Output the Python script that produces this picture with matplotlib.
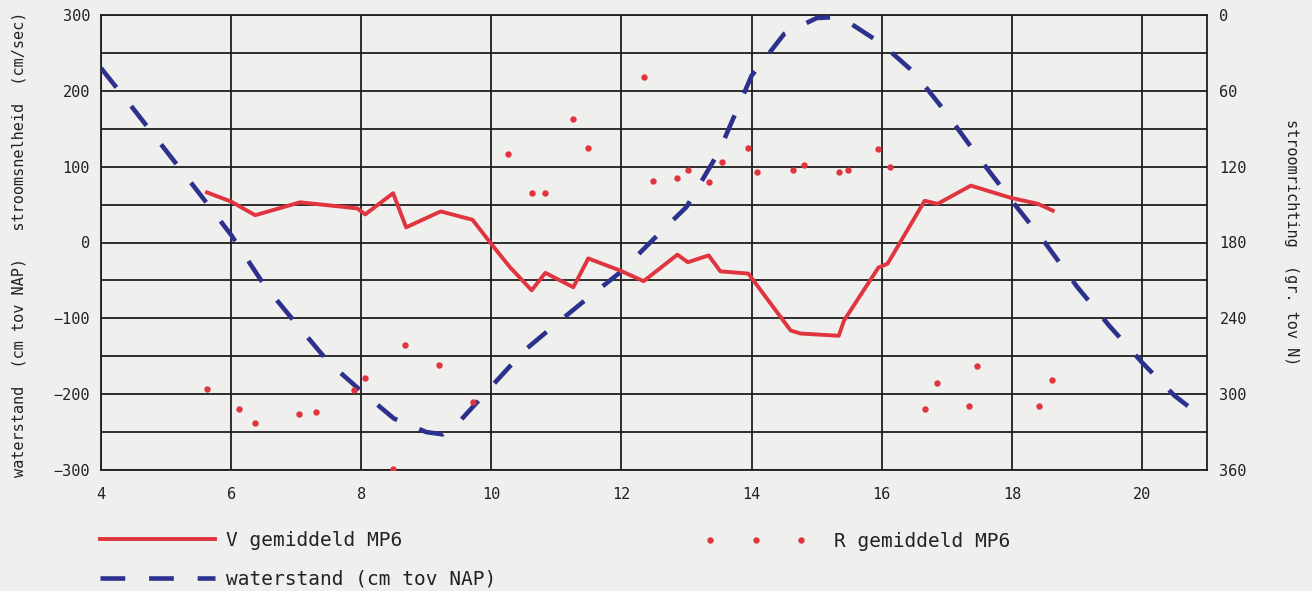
import matplotlib
matplotlib.use("Agg")
import matplotlib.pyplot as plt

# ---- data ----
v_x = [5.63, 6.0, 6.37, 7.06, 7.94, 8.06, 8.49, 8.69, 9.22, 9.71, 10.0, 10.29, 10.62,
       10.83, 11.26, 11.49, 11.98, 12.34, 12.86, 13.02, 13.34, 13.52, 13.95, 14.6,
       14.75, 15.34, 15.42, 15.95, 16.09, 16.66, 16.86, 17.37, 17.98, 18.4, 18.63]
v_y = [66, 54, 36, 53, 45, 37, 65, 20, 41, 30, -2, -33, -63,
       -40, -59, -21, -37, -51, -16, -26, -17, -38, -41, -116,
       -120, -123, -103, -33, -28, 55, 51, 75, 59, 51, 42]

w_x = [4.0, 4.5, 5.0, 5.5, 6.0, 6.5, 7.0, 7.5, 8.0, 8.5, 9.0, 9.25, 9.5, 10.0, 10.5,
       11.0, 11.5, 12.0, 12.5, 13.0, 13.5, 14.0, 14.5, 15.0, 15.25, 15.5, 16.0, 16.5,
       17.0, 17.5, 18.0, 18.5, 19.0, 19.5, 20.0, 20.5, 21.0]
w_y = [230, 176, 121, 66, 10, -55, -107, -158, -196, -232, -250, -253, -237, -190, -143,
       -107, -72, -38, 5, 47, 120, 220, 275, 296, 297, 290, 262, 224,
       170, 111, 55, 1, -58, -110, -158, -202, -235]

r_x = [5.63, 6.12, 6.37, 7.05, 7.31, 7.89, 8.06, 8.49, 8.68, 9.2, 9.72, 10.25, 10.62,
       10.83, 11.26, 11.49, 12.34, 12.48, 12.85, 13.02, 13.35, 13.54, 13.94, 14.09,
       14.63, 14.8, 15.35, 15.48, 15.95, 16.12, 16.66, 16.85, 17.34, 17.46, 18.42, 18.62]
r_dir = [296, 312, 323, 316, 314, 297, 287, 359, 261, 277, 306, 110, 141,
         141, 82, 105, 49, 131, 129, 123, 132, 116, 105, 124,
         123, 119, 124, 123, 106, 120, 312, 291, 309, 278, 309, 289]

x_ticks = [4, 6, 8, 10, 12, 14, 16, 18, 20]
left_ticks = [-300, -200, -100, 0, 100, 200, 300]
right_ticks = [0, 60, 120, 180, 240, 300, 360]

# ---- styling ----
BG = "#efefed"
RED = "#e0343e"
BLUE = "#2c318e"
GRID = "#1e1e1e"
TXT = "#222222"
FONT = "DejaVu Sans Mono"

fig = plt.figure(figsize=(13.12, 5.91), dpi=100, facecolor=BG)
ax = fig.add_axes([101/1312, 1-470/591, (1207-101)/1312, (470-15)/591])
ax.set_facecolor(BG)

ax.set_xlim(4, 21)
ax.set_ylim(-300, 300)
ax.set_xticks(x_ticks)
ax.set_yticks(left_ticks)
ax.set_yticks(list(range(-250, 300, 100)), minor=True)
ax.grid(True, which="major", color=GRID, lw=1.3)
ax.grid(True, which="minor", axis="y", color=GRID, lw=1.3)
ax.set_axisbelow(True)
for s in ax.spines.values():
    s.set_color(GRID)
    s.set_linewidth(1.3)
ax.tick_params(which="both", length=0)
ax.tick_params(axis="x", pad=12, labelsize=11, labelcolor=TXT)
ax.tick_params(axis="y", pad=8, labelsize=11, labelcolor=TXT)
for lab in ax.get_xticklabels() + ax.get_yticklabels():
    lab.set_fontfamily(FONT)

ln_w, = ax.plot(w_x, w_y, color=BLUE, lw=3.3, dashes=(5.4, 5.2), zorder=3)
ln_v, = ax.plot(v_x, v_y, color=RED, lw=2.8, zorder=4)

ax2 = ax.twinx()
ax2.set_ylim(360, 0)
ax2.set_yticks(right_ticks)
ax2.tick_params(length=0, pad=9, labelsize=11, labelcolor=TXT)
for lab in ax2.get_yticklabels():
    lab.set_fontfamily(FONT)
for s in ax2.spines.values():
    s.set_visible(False)
ln_r, = ax2.plot(r_x, r_dir, ls="none", marker="o", ms=4.6, mec="none", color=RED, zorder=5)

fig.text(19/1312, 1-244/591, "waterstand  (cm tov NAP)   stroomsnelheid  (cm/sec)",
         rotation=90, ha="center", va="center", fontsize=11, family=FONT, color=TXT)
fig.text(1291/1312, 1-242/591, "stroomrichting  (gr. tov N)",
         rotation=-90, ha="center", va="center", fontsize=11, family=FONT, color=TXT)

leg1 = fig.legend([ln_v, ln_w], ["V gemiddeld MP6", "waterstand (cm tov NAP)"],
                  loc="upper left", bbox_to_anchor=(100/1312, 1-531/591),
                  frameon=False, prop={"family": FONT, "size": 14},
                  handlelength=5.9, handletextpad=0.6, borderpad=0, borderaxespad=0,
                  labelspacing=1.0)
leg2 = fig.legend([ln_r], ["R gemiddeld MP6"], loc="upper left",
                  bbox_to_anchor=(704/1312, 1-532/591), frameon=False,
                  prop={"family": FONT, "size": 14}, numpoints=3, handlelength=5.3,
                  handletextpad=1.4, borderpad=0, borderaxespad=0)
for t in leg1.get_texts() + leg2.get_texts():
    t.set_color(TXT)

fig.savefig("out.png", dpi=100, facecolor=BG)
